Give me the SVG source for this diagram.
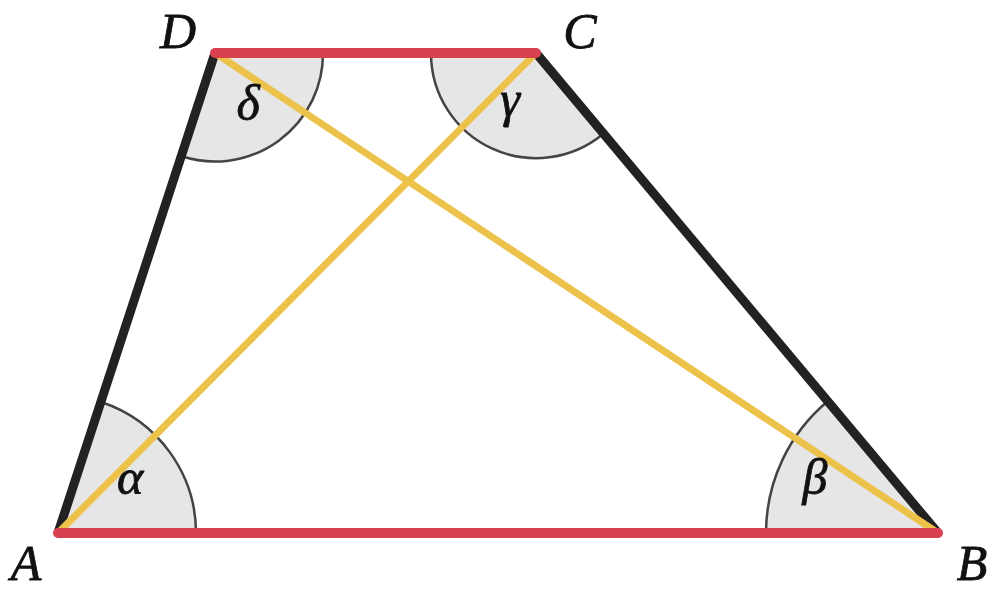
<svg xmlns="http://www.w3.org/2000/svg" width="1000" height="590" viewBox="0 0 1000 590">
<style>
.sec{fill:#e6e6e6;stroke:none}
.arc{fill:none;stroke:#444;stroke-width:2.5}
.red{stroke:#d9414f;stroke-width:10;stroke-linecap:round}
.blk{stroke:#222;stroke-width:9;stroke-linecap:round}
.yel{stroke:#edc24a;stroke-width:7;stroke-linecap:round}
text{font-family:"Liberation Serif",serif;font-style:italic;font-size:50px;fill:#111;text-anchor:middle;stroke:#111;stroke-width:0.8}
</style>
<rect width="1000" height="590" fill="#fff"/>
<g id="angles">
<path class="sec" d="M58,533 L196,533 A138,138 0 0 0 101,402 Z"/>
<path class="arc" d="M196,533 A138,138 0 0 0 101,402"/>
<path class="sec" d="M938,533 L766,533 A172,172 0 0 1 828,401 Z"/>
<path class="arc" d="M766,533 A172,172 0 0 1 828,401"/>
<path class="sec" d="M215,53 L323,53 A108,108 0 0 1 181,156 Z"/>
<path class="arc" d="M323,53 A108,108 0 0 1 181,156"/>
<path class="sec" d="M536,53 L431,53 A105,105 0 0 0 603,134 Z"/>
<path class="arc" d="M431,53 A105,105 0 0 0 603,134"/>
</g>
<g id="connectors">
<line class="blk" x1="58" y1="533" x2="215" y2="53"/>
<line class="blk" x1="938" y1="533" x2="536" y2="53"/>
<line class="yel" x1="58" y1="533" x2="536" y2="53"/>
<line class="yel" x1="938" y1="533" x2="215" y2="53"/>
<line class="red" x1="58" y1="533" x2="938" y2="533"/>
<line class="red" x1="215" y1="53" x2="536" y2="53"/>
</g>
<g id="labels">
<text x="26" y="580">A</text>
<text x="972" y="580">B</text>
<text x="580" y="48">C</text>
<text x="178" y="48">D</text>
<text x="130" y="494">α</text>
<text x="815" y="494">β</text>
<text x="510" y="116">γ</text>
<text x="248" y="120">δ</text>
</g>
</svg>
